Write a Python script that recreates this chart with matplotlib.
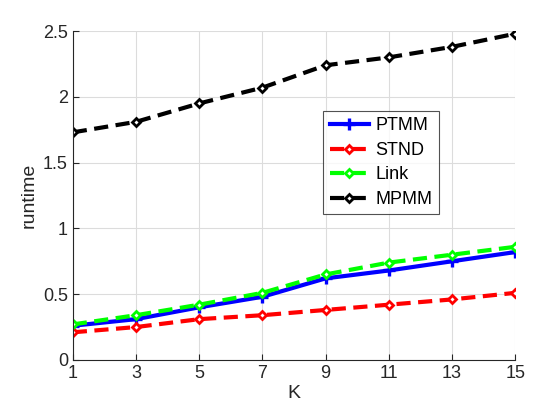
import matplotlib

matplotlib.use("Agg")
import matplotlib.pyplot as plt

plt.rcParams["font.family"] = ["Liberation Sans", "DejaVu Sans"]

K = [1, 3, 5, 7, 9, 11, 13, 15]
ptmm = [0.26, 0.31, 0.40, 0.48, 0.62, 0.68, 0.75, 0.82]
stnd = [0.21, 0.25, 0.31, 0.34, 0.38, 0.42, 0.46, 0.51]
link = [0.27, 0.34, 0.42, 0.51, 0.65, 0.74, 0.80, 0.86]
mpmm = [1.73, 1.81, 1.95, 2.07, 2.24, 2.30, 2.38, 2.48]

fig = plt.figure(figsize=(5.6, 4.2), dpi=100)
ax = fig.add_axes([0.130, 0.143, 0.790, 0.783])

dash = (0, (3.4, 1.8))
lw = 3.0
ax.plot(K, ptmm, "-", color="#0000ff", lw=lw, marker="+", ms=8, mew=2.4,
        label="PTMM")
ax.plot(K, stnd, linestyle=dash, color="#ff0000", lw=lw, marker="D", ms=4.5,
        mfc="white", mew=2.0, label="STND")
ax.plot(K, link, linestyle=dash, color="#00ff00", lw=lw, marker="D", ms=4.5,
        mfc="white", mew=2.0, label="Link")
ax.plot(K, mpmm, linestyle=dash, color="#000000", lw=lw, marker="D", ms=4.5,
        mfc="white", mew=2.0, label="MPMM")

ax.set_xlim(1, 15)
ax.set_ylim(0, 2.5)
ax.set_xticks(K)
ax.set_yticks([0, 0.5, 1, 1.5, 2, 2.5])
ax.set_yticklabels(["0", "0.5", "1", "1.5", "2", "2.5"])
ax.grid(True, color="#dcdcdc", lw=0.8)
ax.set_axisbelow(True)
for s in ("top", "right"):
    ax.spines[s].set_visible(False)
for s in ("left", "bottom"):
    ax.spines[s].set_color("#262626")
ax.tick_params(direction="in", labelsize=13, colors="#262626", length=4)
ax.set_xlabel("K", fontsize=14, color="#262626", labelpad=2)
ax.set_ylabel("runtime", fontsize=14, color="#262626", labelpad=4)

leg = ax.legend(loc="upper left", bbox_to_anchor=(0.566, 0.757), fontsize=13,
                frameon=True, fancybox=False, edgecolor="#262626",
                handlelength=2.2, borderpad=0.35, labelspacing=0.42,
                handletextpad=0.35, borderaxespad=0)
leg.get_frame().set_linewidth(0.8)

fig.savefig("out.png", dpi=100)
